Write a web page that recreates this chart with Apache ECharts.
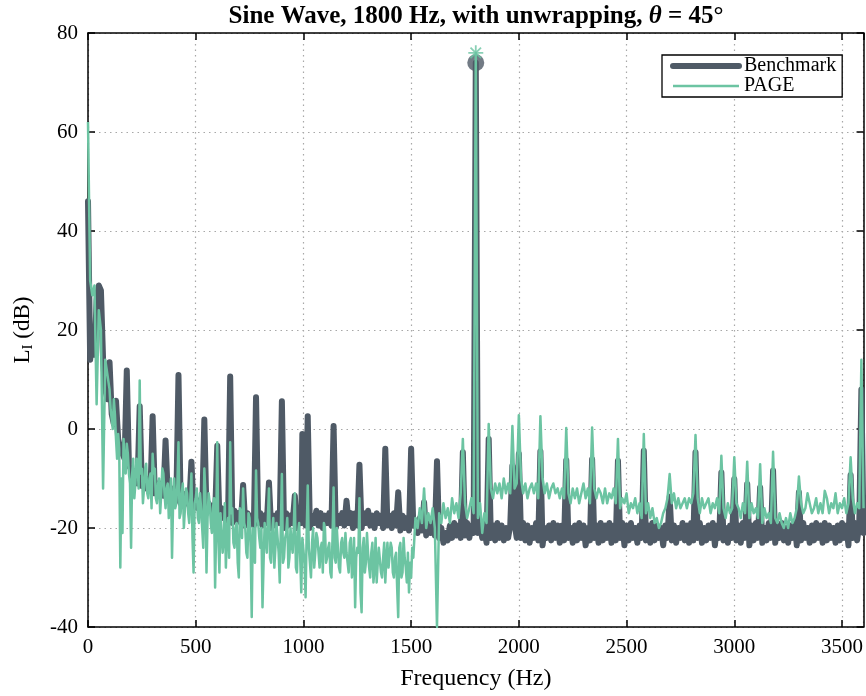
<!DOCTYPE html>
<html>
<head>
<meta charset="utf-8">
<script src="https://cdn.jsdelivr.net/npm/echarts@6.0.0/dist/echarts.min.js"></script>
<style>
  html, body { margin: 0; padding: 0; background: #fff; }
  #chart { width: 866px; height: 696px; }
</style>
</head>
<body>
<div id="chart"></div>
<script>
// spectrum baselines, one value per 10 Hz bin (0 .. 3600 Hz)
const binHz = 10

const benchBase = [
  13, 14, 18, 15, 26, 29, 28, 14, 8, 6, 5, 3, 1, -1, -2, -4, -5, -6, -7, -7.5,
  -8, -10, -8.5, -11, -9, -11.5, -10, -12, -10, -12.5, -10.5, -13, -11, -12.5, -11, -13.5, -11.5, -13, -12, -14,
  -12, -14.5, -12.5, -15, -13, -15, -13.5, -15.5, -13.5, -16, -14, -16, -14.5, -16.5, -14.5, -17, -15, -16.5, -15.5, -17.5,
  -15.5, -18, -16, -18, -16.5, -18.5, -16, -19, -16.5, -18.5, -17, -19, -16.5, -19.5, -17, -19, -17.5, -19.5, -17, -19,
  -17, -19.5, -17.5, -19, -17, -20, -17.5, -19.5, -17, -19, -17.5, -20, -17, -19.5, -17.5, -19, -17, -20, -17.5, -19,
  -17, -19.5, -17, -20, -17.5, -19, -16.5, -19.5, -17, -20, -17.5, -19, -17, -19.5, -16.5, -20, -17.5, -19, -17, -19.5,
  -17.5, -19, -17, -20, -17, -19.5, -17.5, -20, -17, -19, -16.5, -19.5, -17.5, -20, -17, -19, -17.5, -20, -17, -19.5,
  -17.5, -20, -17, -19.5, -18, -20.5, -17.5, -20, -18, -20.5, -18, -19.5, -18.5, -21, -18, -20.5, -19, -21.5, -18.5, -21,
  -19, -21.5, -19, -22, -20, -23, -21, -22.5, -19.5, -22, -19, -21.5, -19.5, -22, -19, -21.5, -19, -22, -19.5, -21,
  -19, -21, -19.5, -22, -20, -23, -20, -22, -19.5, -22.5, -19, -22, -19.5, -22.5, -20, -22, -19.5, -22.5, -19, -22,
  -19.5, -22, -19, -22.5, -19.5, -23, -20, -22, -19, -22.5, -19.5, -23.5, -20, -22, -19.5, -22.5, -19, -22, -19.5, -23,
  -19.5, -22.5, -19, -22, -20, -23, -19.5, -22.5, -19, -22, -19.5, -23.5, -20, -22.5, -19, -22, -19.5, -23, -19, -22.5,
  -19.5, -22, -19, -23, -19.5, -22.5, -20, -22, -19, -23.5, -19.5, -22.5, -19, -22, -20, -23, -19.5, -22, -19, -22.5,
  -19.5, -23, -19, -22.5, -19.5, -22, -20, -23.5, -19.5, -22, -19, -22.5, -19.5, -23, -20, -22, -19, -22.5, -19.5, -23,
  -19, -22.5, -19.5, -22, -19, -23, -20, -22.5, -19.5, -22, -19, -23.5, -19.5, -22, -19, -22.5, -20, -23, -19.5, -22,
  -19, -22.5, -19.5, -23, -19, -22, -20, -23.5, -19.5, -22.5, -19, -22, -19.5, -23, -20, -22.5, -19, -22, -19.5, -23,
  -19.5, -22, -19, -22.5, -20, -23, -19.5, -22, -19, -23.5, -19.5, -22.5, -19, -22, -20, -23, -19.5, -22.5, -19, -22,
  -19.5, -23, -19, -22.5, -19.5, -22, -20, -23, -19.5, -22.5, -19, -22, -19.5, -23.5, -20, -22, -19, -22.5, -19.5, -22,
  -21
]

const pageBase = [
  40, 30, 27, 29, 5, 24, 20, -12, 14, 11, 8, 2, 6, -2, -1, -28, -21, -7, -3, -9,
  -24, -6, -11, -7, -13, -8, -12, -7, -14, -9, -12, -8, -15, -10, -13, -9, -16, -11, -14, -26,
  -10, -15, -12, -17, -11, -16, -13, -19, -12, -29, -14, -18, -13, -20, -15, -29, -13, -19, -16, -32,
  -15, -29, -17, -22, -28, -18, -23, -16, -24, -19, -30, -17, -23, -20, -26, -18, -38, -21, -25, -19,
  -24, -36, -19, -25, -21, -27, -18, -24, -22, -31, -19, -26, -21, -28, -20, -25, -23, -29, -19, -33,
  -22, -34, -20, -27, -23, -28, -21, -25, -24, -29, -20, -26, -23, -30, -21, -27, -24, -29, -22, -26,
  -25, -29, -22, -27, -36, -24, -28, -37, -22, -27, -25, -30, -23, -28, -31, -24, -29, -26, -31, -23,
  -28, -24, -30, -25, -38, -23, -29, -26, -31, -33, -30, -26, -18, -20, -16, -19, -15, -20, -17, -19,
  -16, -20, -40, -17, -19, -15, -18, -16, -19, -14, -17, -15, -18, -13, -17, -15, -18, -16, -14, -17,
  -16, -18, -15, -21, -17, -19, -14, -12, -14, -11, -13, -11, -14, -10, -13, -11, -13, -10, -12, -11,
  -12, -10, -13, -11, -14, -12, -11, -13, -11, -14, -12, -10, -13, -11, -14, -12, -11, -13, -12, -14,
  -12, -14, -11, -13, -15, -12, -14, -12, -15, -13, -11, -14, -12, -15, -13, -12, -14, -12, -13, -15,
  -12, -15, -13, -14, -12, -15, -13, -16, -14, -15, -13, -17, -15, -16, -14, -17, -15, -18, -16, -17,
  -15, -18, -16, -19, -18, -20, -19, -17, -16, -14, -17, -15, -13, -16, -14, -16, -15, -14, -16, -14,
  -15, -13, -16, -14, -17, -14, -16, -15, -14, -17, -15, -16, -14, -17, -15, -16, -18, -15, -17, -16,
  -17, -15, -16, -18, -15, -17, -16, -18, -15, -17, -16, -18, -17, -19, -16, -18, -17, -19, -17, -18,
  -19, -17, -19, -20, -18, -20, -17, -19, -18, -16, -18, -15, -17, -16, -18, -15, -17, -16, -14, -17,
  -15, -17, -16, -14, -17, -15, -16, -14, -17, -15, -16, -14, -17, -15, -16, -14, -17, -15, -16, -17,
  -16
]

// extra PAGE bins halfway between the 10 Hz ones, 105 .. 1505 Hz (noisy low band)
const pageMidStart = 105
const pageMid = [
  4, 0, 3, -6, -4, -10, -2, -9, -5, -11,
  -9, -14, -6, -12, -9, -15, -8, -13, -10, -16, -9, -14, -11, -17, -8, -13, -12, -18, -10, -15,
  -16, -11, -18, -13, -20, -12, -17, -14, -22, -15, -12, -19, -16, -24, -13, -18, -15, -21, -14, -20,
  -22, -17, -25, -15, -21, -26, -17, -23, -20, -27, -16, -22, -19, -25, -17, -24, -20, -27, -18, -22,
  -20, -27, -22, -18, -26, -21, -28, -19, -25, -20, -27, -22, -18, -26, -23, -20, -28, -21, -26, -22,
  -27, -21, -24, -30, -20, -25, -22, -28, -23, -19, -27, -24, -29, -22, -26, -20, -28, -23, -25, -21,
  -27, -23, -30, -22, -26, -25, -33, -24, -29, -21, -28, -25, -31, -22, -27, -24, -30, -23, -26, -28,
  -23, -29, -26, -32, -24, -30, -22, -28, -25, -27, -24
]

// harmonic lines [Hz, dB]
const benchSpikes = [
  [0, 46], [100, 13.5], [130, 5.7], [180, 11.8], [240, 4.6], [300, 2.6], [360, -2.3], [420, 10.9],
  [480, -6.6], [540, 1.9], [600, -3.4], [660, 10.6], [720, -11.3], [780, 6.4], [840, -10.8], [900, 5.6],
  [960, -13.5], [995, -1], [1020, 2.6], [1140, 0.6], [1200, -14.5], [1260, -7.2], [1380, -4], [1440, -12.8],
  [1500, -4], [1560, -14.8], [1620, -6.5], [1740, -4.7], [1800, 74], [1860, -2], [1970, -7.4], [2000, -5],
  [2100, -4.5], [2220, -6.3], [2340, -6.1], [2460, -6.4], [2580, -4.4], [2700, -13.7], [2820, -4.7],
  [2940, -8.8], [3000, -10.1], [3060, -11.1], [3120, -11.8], [3180, -8.4], [3300, -12.8], [3540, -9.3], [3590, 8]
]

const pageSpikes = [
  [0, 62], [180, -3], [240, 9.8], [300, -5], [420, -2.7], [480, -9], [540, -8], [600, -2.7], [660, -2.7],
  [720, -12], [780, -8.4], [840, -12], [900, -9.1], [960, -13], [1020, -11.4], [1140, -11.8], [1260, -14],
  [1560, -12], [1740, -2], [1800, 76], [1860, 1], [1970, 0.6], [2000, 2.8], [2100, 2.6], [2220, 0.2],
  [2340, 0.3], [2460, -2], [2580, -1], [2700, -9.1], [2820, -1.2], [2940, -5.4], [3000, -5.7], [3060, -6.6],
  [3120, -7.1], [3180, -4.6], [3300, -9.6], [3340, -13], [3420, -12.5], [3470, -13], [3540, -5.7], [3590, 14]
]

// marked tone peak
const benchPeak = [1800, 74]
const pagePeak = [1800, 76]

const xTicks = [0, 3600, 500]
const yTicks = [-40, 80, 20]

const benchColor = '#4f5a66'
const pageColor = '#6cc4a2'
const serif = 'Liberation Serif'

function buildSeries (base, spikes, extra) {
  const pts = base.map((v, i) => [i * binHz, v])
  if (extra) extra.values.forEach((v, i) => pts.push([extra.start + i * binHz, v]))
  spikes.forEach(([f, v]) => {
    const i = pts.findIndex(p => p[0] === f)
    if (i >= 0) pts[i] = [f, v]
    else pts.push([f, v])
  })
  return pts.sort((a, b) => a[0] - b[0])
}

const benchData = buildSeries(benchBase, benchSpikes)
const pageData = buildSeries(pageBase, pageSpikes, { start: pageMidStart, values: pageMid })

const myChart = echarts.init(document.getElementById('chart'))

const axisText = { fontFamily: serif, fontSize: 21, color: '#000', formatter: v => String(v) }
const gridLine = { show: true, lineStyle: { type: [1.5, 4], color: '#a8a8a8', width: 1.2 } }
const blackLine = { onZero: false, lineStyle: { color: '#000', width: 1.5 } }
const innerTick = { show: true, inside: true, length: 7, lineStyle: { color: '#000', width: 1.5 } }

const option = {
  animation: false,
  backgroundColor: '#fff',
  title: {
    text: 'Sine Wave, 1800 Hz, with unwrapping, {i|θ} = 45°',
    left: 471,
    top: -1,
    textAlign: 'center',
    textStyle: {
      fontFamily: serif,
      fontSize: 25,
      fontWeight: 'bold',
      color: '#000',
      rich: { i: { fontFamily: serif, fontSize: 25, fontWeight: 'bold', fontStyle: 'italic', color: '#000' } }
    }
  },
  legend: {
    left: 662,
    top: 55,
    orient: 'vertical',
    itemWidth: 66,
    itemHeight: 14,
    itemGap: 0,
    padding: [1, 6, 1, 8],
    borderColor: '#000',
    borderWidth: 1.3,
    backgroundColor: '#fff',
    textStyle: { fontFamily: serif, fontSize: 20, color: '#000' },
    data: [
      { name: 'Benchmark', lineStyle: { width: 6 }, itemStyle: { opacity: 0 } },
      { name: 'PAGE', lineStyle: { width: 2.5 }, itemStyle: { opacity: 0 } }
    ]
  },
  grid: { left: 88, right: 1, top: 33, bottom: 68, containLabel: false },
  xAxis: [
    {
      type: 'value',
      min: xTicks[0],
      max: xTicks[1],
      interval: xTicks[2],
      name: 'Frequency (Hz)',
      nameLocation: 'middle',
      nameGap: 40,
      nameTextStyle: { fontFamily: serif, fontSize: 24, color: '#000' },
      axisLine: blackLine,
      axisTick: innerTick,
      axisLabel: { ...axisText, margin: 10, showMaxLabel: false },
      splitLine: gridLine
    },
    {
      type: 'value',
      position: 'top',
      min: xTicks[0],
      max: xTicks[1],
      interval: xTicks[2],
      axisLine: blackLine,
      axisTick: innerTick,
      axisLabel: { show: false },
      splitLine: { show: false }
    }
  ],
  yAxis: [
    {
      type: 'value',
      min: yTicks[0],
      max: yTicks[1],
      interval: yTicks[2],
      name: 'L{s|I} (dB)',
      nameLocation: 'middle',
      nameGap: 52,
      nameTextStyle: {
        fontFamily: serif, fontSize: 23, color: '#000',
        rich: { s: { fontFamily: serif, fontSize: 15, color: '#000', padding: [12, 0, 0, 0] } }
      },
      axisLine: blackLine,
      axisTick: innerTick,
      axisLabel: { ...axisText, margin: 10 },
      splitLine: gridLine
    },
    {
      type: 'value',
      position: 'right',
      min: yTicks[0],
      max: yTicks[1],
      interval: yTicks[2],
      axisLine: { ...blackLine, show: true },
      axisTick: innerTick,
      axisLabel: { show: false },
      splitLine: { show: false }
    }
  ],
  series: [
    {
      name: 'Benchmark',
      type: 'line',
      data: benchData,
      symbol: 'none',
      sampling: 'none',
      z: 2,
      color: benchColor,
      lineStyle: { width: 6, color: benchColor, cap: 'round', join: 'round' }
    },
    {
      name: 'Benchmark peak',
      type: 'scatter',
      data: [benchPeak],
      symbol: 'circle',
      symbolSize: 17,
      z: 3,
      itemStyle: { color: benchColor }
    },
    {
      name: 'PAGE',
      type: 'line',
      data: pageData,
      symbol: 'none',
      sampling: 'none',
      z: 4,
      color: pageColor,
      lineStyle: { width: 2.5, color: pageColor, join: 'round' }
    },
    {
      name: 'PAGE peak',
      type: 'scatter',
      data: [pagePeak],
      symbol: 'path://M0,-10L0,10M-10,0L10,0M-7,-7L7,7M-7,7L7,-7',
      symbolSize: 15,
      z: 5,
      itemStyle: { color: 'none', borderColor: pageColor, borderWidth: 1.8 }
    }
  ]
}

myChart.setOption(option)
</script>
</body>
</html>
